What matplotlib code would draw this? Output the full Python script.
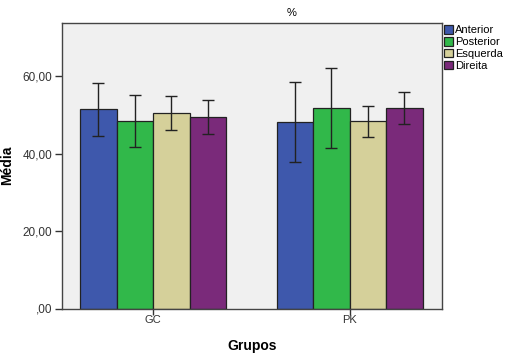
import matplotlib
matplotlib.use("Agg")
import matplotlib.pyplot as plt
import numpy as np
from matplotlib.ticker import FuncFormatter

plt.rcParams["font.family"] = ["Liberation Sans", "DejaVu Sans"]

groups = ["GC", "PK"]
series = ["Anterior", "Posterior", "Esquerda", "Direita"]
means = {
    "Anterior":  [51.6, 48.2],
    "Posterior": [48.5, 51.9],
    "Esquerda":  [50.5, 48.4],
    "Direita":   [49.5, 51.7],
}
err_low = {
    "Anterior":  [44.6, 37.9],
    "Posterior": [41.7, 41.5],
    "Esquerda":  [46.2, 44.3],
    "Direita":   [45.2, 47.7],
}
err_high = {
    "Anterior":  [58.4, 58.6],
    "Posterior": [55.3, 62.1],
    "Esquerda":  [54.9, 52.4],
    "Direita":   [53.9, 55.9],
}
colors = ["#3E58AC", "#31B84A", "#D5D09A", "#7A2A7A"]

fig = plt.figure(figsize=(5.11, 3.6), dpi=100)
W, H = 511, 360
ax = fig.add_axes([62 / W, 1 - 308.5 / H, (441.7 - 62) / W, (308.5 - 23) / H])
ax.set_facecolor("#F0F0F0")

x = np.arange(len(groups))
bw = 0.1855
for i, s in enumerate(series):
    pos = x + (i - 1.5) * bw
    m = np.array(means[s])
    lo = m - np.array(err_low[s])
    hi = np.array(err_high[s]) - m
    ax.bar(pos, m, width=bw, color=colors[i], edgecolor="#222222", linewidth=0.9,
           label=s, zorder=2)
    ax.errorbar(pos, m, yerr=[lo, hi], fmt="none", ecolor="#222222",
                elinewidth=1, capsize=4, capthick=1, zorder=3)

ax.set_xlim(-0.463, 1.468)
ax.set_ylim(0, 73.8)
ax.set_yticks([0, 20, 40, 60])
ax.yaxis.set_major_formatter(FuncFormatter(lambda v, p: ",00" if v == 0 else f"{v:.2f}".replace(".", ",")))
ax.set_xticks(x)
ax.set_xticklabels(groups)
ax.tick_params(axis="both", labelsize=8.5, colors="#333333", length=5, width=1, pad=2)
ax.tick_params(axis="x", direction="inout", length=8, pad=1, labelsize=8)
for sp in ax.spines.values():
    sp.set_color("#444444")
    sp.set_linewidth(1)

ax.set_ylabel("Média", fontsize=10, fontweight="bold", labelpad=6)
ax.set_xlabel("Grupos", fontsize=10, fontweight="bold", labelpad=10)
fig.text(292 / W, 1 - 13 / H, "%", fontsize=8, ha="center", va="center")

leg = ax.legend(loc="upper left", bbox_to_anchor=(1.0, 1.0), frameon=False,
                fontsize=8, handlelength=0.8, handleheight=0.8, handletextpad=0.2,
                labelspacing=0.15, borderaxespad=0.1, borderpad=0.1)
for h in leg.legend_handles:
    h.set_edgecolor("#222222")

fig.savefig("out.png", dpi=100)
